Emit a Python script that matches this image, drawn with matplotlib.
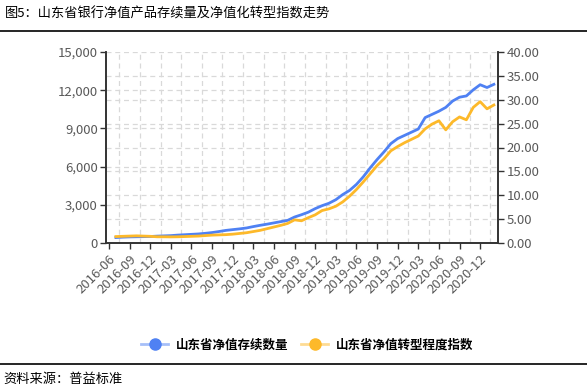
import matplotlib
matplotlib.use("Agg")
import matplotlib.pyplot as plt
from matplotlib.lines import Line2D
from matplotlib.colors import to_rgba
import numpy as np
import pandas as pd

plt.rcParams['font.family'] = ['Noto Sans CJK SC', 'DejaVu Sans']

# monthly data, 2016-07 .. 2021-02
months = pd.period_range('2016-07', '2021-02', freq='M').strftime('%Y-%m').tolist()

stock_count = [430, 460, 480, 490, 500, 510, 540, 560, 580, 620,
               650, 680, 710, 760, 820, 900, 990, 1050, 1110, 1180,
               1290, 1390, 1480, 1580, 1680, 1780, 2040, 2220, 2420, 2700,
               2930, 3120, 3400, 3800, 4130, 4600, 5200, 5900, 6550, 7150,
               7800, 8200, 8450, 8700, 8950, 9850, 10100, 10350, 10650, 11150,
               11450, 11550, 12030, 12430, 12210, 12460]

transform_index = [1.35, 1.40, 1.45, 1.50, 1.45, 1.40, 1.30, 1.30, 1.28, 1.30,
                   1.35, 1.40, 1.45, 1.55, 1.65, 1.70, 1.75, 1.85, 2.00, 2.15,
                   2.40, 2.65, 3.00, 3.35, 3.70, 4.10, 4.85, 4.65, 5.30, 5.90,
                   6.80, 7.15, 7.70, 8.60, 9.80, 11.20, 12.80, 14.50, 16.20, 17.60,
                   19.30, 20.20, 21.00, 21.70, 22.40, 23.90, 24.90, 25.60, 23.70, 25.40,
                   26.40, 25.80, 28.40, 29.60, 28.10, 28.90]

tick_labels = pd.period_range('2016-06', '2020-12', freq='3M').strftime('%Y-%m').tolist()

series_names = ['山东省净值存续数量', '山东省净值转型程度指数']
title = '图5：山东省银行净值产品存续量及净值化转型指数走势'
source = '资料来源：普益标准'

blue = '#4f81f3'
yellow = '#fdb92a'
grey_txt = '#595959'
grid_c = '#d9d9d9'

# month offset from 2016-06
start = pd.Period('2016-06', freq='M')
x = np.array([(pd.Period(m, freq='M') - start).n for m in months])
xt = np.array([(pd.Period(m, freq='M') - start).n for m in tick_labels])

fig = plt.figure(figsize=(5.87, 3.90), dpi=100)
ax = fig.add_axes([106 / 587, 1 - 243 / 390, 392 / 587, 191 / 390])
ax2 = ax.twinx()

ax.plot(x, stock_count, color=blue, lw=2, zorder=3)
ax2.plot(x, transform_index, color=yellow, lw=2, zorder=3)

ax.set_xlim(-0.44, 56.6)
ax.set_ylim(0, 15000)
ax2.set_ylim(0, 40)

ax.set_xticks(xt)
ax.set_xticklabels(tick_labels, rotation=45, ha='right', rotation_mode='anchor')
ax.set_xticks(xt + 1.5, minor=True)
ax.set_yticks(np.arange(0, 15001, 3000))
ax.set_yticklabels([f'{v:,}' for v in range(0, 15001, 3000)])
ax.set_yticks(np.arange(0, 15001, 1875), minor=True)
ax2.set_yticks(np.arange(0, 40.1, 5))
ax2.set_yticklabels([f'{v:.2f}' for v in np.arange(0, 40.1, 5)])

ax.set_axisbelow(True)
ax.grid(True, which='minor', axis='x', color=grid_c, ls=(0, (4, 3)), lw=0.9)
ax.grid(True, which='both', axis='y', color=grid_c, ls=(0, (4, 3)), lw=0.9)

for a in (ax, ax2):
    a.spines['top'].set_visible(False)
    for s in ('left', 'right', 'bottom'):
        a.spines[s].set_color('#333333')
        a.spines[s].set_linewidth(1.2)
    a.tick_params(which='major', length=4, width=1, color='#333333',
                  labelcolor=grey_txt, labelsize=9.5, pad=2)
    a.tick_params(which='minor', length=0)

ax.tick_params(axis='x', labelsize=9.5, pad=3)

fig.text(0.009, 0.963, title, fontsize=9.5, va='center', ha='left', color='black')
fig.add_artist(Line2D([0, 1], [1 - 30.7 / 390, 1 - 30.7 / 390], color='black', lw=1.2))
fig.add_artist(Line2D([0, 1], [1 - 363.5 / 390, 1 - 363.5 / 390], color='black', lw=1.2))
fig.text(0.005, 0.026, source, fontsize=9.5, va='center', ha='left', color='black')

handles = [Line2D([], [], color=to_rgba(blue, 0.5), lw=2, marker='o', ms=8,
                  markerfacecolor=blue, markeredgecolor=blue),
           Line2D([], [], color=to_rgba(yellow, 0.5), lw=2, marker='o', ms=8,
                  markerfacecolor=yellow, markeredgecolor=yellow)]
fig.legend(handles, series_names, loc='center', bbox_to_anchor=(0.523, 0.115),
           ncol=2, frameon=False, handlelength=2.2, columnspacing=1.0,
           handletextpad=0.6, prop={'size': 9, 'weight': 'bold'})

fig.savefig('out.png', dpi=100)
